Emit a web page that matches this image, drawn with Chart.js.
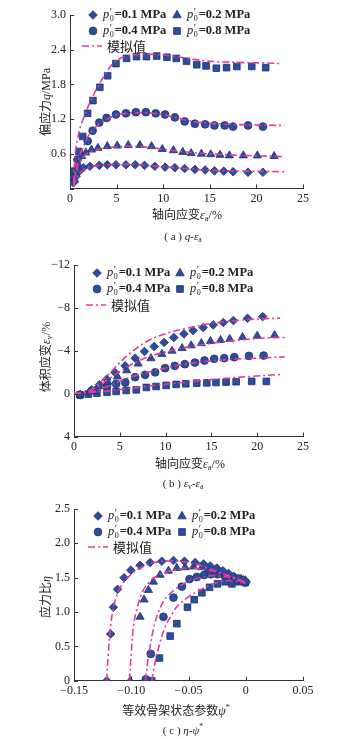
<!DOCTYPE html>
<html lang="zh">
<head>
<meta charset="UTF-8">
<title>q-εa, εv-εa, η-ψ*</title>
<script src="https://cdn.jsdelivr.net/npm/chart.js"></script>
<style>
  body { margin: 0; background: #fff; width: 358px; height: 739px; position: relative; overflow: hidden; }
  canvas { position: absolute; left: 0; }
  .lbl { position: absolute; font-family: "Liberation Serif", "Noto Sans CJK SC", serif; color: #222; white-space: nowrap; }
  .ytitle { font-size: 12px; transform: translate(-50%, -50%) rotate(-90deg); }
  .xtitle { font-size: 12px; transform: translate(-50%, -50%); }
  .cap { font-size: 11px; transform: translate(-50%, -50%); }
  sub { font-size: 70%; vertical-align: -0.25em; }
  sup { font-size: 70%; }
</style>
</head>
<body>
<canvas id="chartA" width="358" height="205" style="top:0"></canvas>
<canvas id="chartB" width="358" height="205" style="top:250px"></canvas>
<canvas id="chartC" width="358" height="210" style="top:495px"></canvas>

<div class="lbl ytitle" style="left:45px;top:102px">偏应力<i>q</i>/MPa</div>
<div class="lbl xtitle" style="left:187px;top:214px">轴向应变<i>ε</i><sub>a</sub>/%</div>
<div class="lbl cap" style="left:183px;top:237px">( a ) <i>q</i>-<i>ε</i><sub>a</sub></div>

<div class="lbl ytitle" style="left:45px;top:357px">体积应变<i>ε</i><sub>v</sub>/%</div>
<div class="lbl xtitle" style="left:190px;top:463px">轴向应变<i>ε</i><sub>a</sub>/%</div>
<div class="lbl cap" style="left:183px;top:484px">( b ) <i>ε</i><sub>v</sub>-<i>ε</i><sub>a</sub></div>

<div class="lbl ytitle" style="left:45px;top:597px">应力比<i>η</i></div>
<div class="lbl xtitle" style="left:176px;top:710px">等效骨架状态参数<i>ψ</i><sup>*</sup></div>
<div class="lbl cap" style="left:183px;top:729px">( c ) <i>η</i>-<i>ψ</i><sup>*</sup></div>

<script>
// ---- data ----
const pressures = ['0.1', '0.2', '0.4', '0.8'];

// (a) q - εa, experimental
const aExp01 = [[0.36,0.10],[0.64,0.21],[1.0,0.30],[1.43,0.36],[2.14,0.385],[3.14,0.40],[4.0,0.41],[4.93,0.41],[6.0,0.41],[7.0,0.41],[8.0,0.40],[9.1,0.385],[10.2,0.37],[11.25,0.36],[12.3,0.345],[13.4,0.33],[14.5,0.32],[15.5,0.305],[16.5,0.30],[17.5,0.29],[19.1,0.28],[20.7,0.28]];
const aExp02 = [[0.5,0.15],[0.9,0.41],[1.25,0.56],[1.7,0.62],[2.3,0.67],[3.0,0.70],[4.0,0.73],[5.07,0.74],[6.25,0.75],[7.5,0.75],[8.75,0.73],[9.9,0.68],[11.1,0.66],[12.1,0.63],[13.0,0.61],[14.1,0.60],[15.1,0.59],[16.1,0.58],[17.1,0.57],[18.6,0.57],[20.1,0.57],[21.9,0.56]];
const aExp04 = [[0.4,0.2],[0.8,0.5],[1.9,0.82],[2.43,1.0],[3.14,1.14],[3.93,1.22],[4.93,1.28],[6.0,1.30],[7.07,1.32],[8.14,1.32],[9.2,1.30],[10.2,1.28],[11.25,1.23],[12.3,1.16],[13.4,1.12],[14.5,1.11],[15.5,1.09],[16.6,1.09],[17.5,1.07],[19.1,1.09],[20.7,1.07]];
const aExp08 = [[0.5,0.3],[0.96,0.64],[1.36,0.90],[1.89,1.30],[2.46,1.52],[3.2,1.75],[4.04,1.95],[4.93,2.16],[6.07,2.25],[7.14,2.28],[8.2,2.28],[9.3,2.29],[10.4,2.27],[11.4,2.25],[12.5,2.20],[13.6,2.14],[14.6,2.12],[15.7,2.08],[16.8,2.09],[17.9,2.11],[19.5,2.11],[21.0,2.09]];
// (a) simulated
const aSim01 = [[0.4,0.03],[0.7,0.18],[1,0.26],[1.5,0.33],[2,0.37],[3,0.40],[4,0.41],[5,0.42],[6,0.42],[7,0.415],[8,0.40],[10,0.375],[12,0.35],[14,0.325],[16,0.31],[19,0.30],[23,0.29]];
const aSim02 = [[0.4,0.05],[0.7,0.3],[1,0.45],[1.5,0.56],[2,0.62],[3,0.68],[4,0.71],[5,0.72],[6,0.73],[7,0.73],[8,0.72],[10,0.68],[12,0.64],[14,0.61],[16,0.59],[19,0.57],[23,0.55]];
const aSim04 = [[0.4,0.08],[0.7,0.37],[1,0.55],[1.5,0.75],[2,0.92],[3,1.10],[4,1.20],[5,1.27],[6,1.30],[7,1.31],[8,1.31],[9.5,1.29],[11,1.24],[12.5,1.18],[14,1.14],[16,1.12],[19,1.10],[23,1.09]];
const aSim08 = [[0.4,0.1],[0.55,0.58],[0.8,0.85],[1.25,1.13],[2.5,1.61],[3.9,2.01],[4.8,2.19],[6,2.29],[7.5,2.32],[9,2.32],[11,2.29],[13,2.24],[15,2.20],[18,2.18],[21,2.17],[22.6,2.16]];

// (b) εv - εa, experimental
const bExp01 = [[0.66,0.1],[1.93,-0.37],[2.77,-0.84],[3.57,-1.36],[4.48,-1.98],[5.58,-2.6],[6.67,-3.32],[7.69,-3.94],[8.75,-4.4],[9.84,-4.78],[10.9,-5.24],[12.0,-5.58],[13.0,-5.89],[14.1,-6.17],[15.2,-6.42],[16.3,-6.64],[17.4,-6.82],[18.95,-7.04],[20.6,-7.19]];
const bExp02 = [[0.66,0.1],[1.7,-0.2],[2.7,-0.7],[3.7,-1.1],[4.74,-1.6],[5.76,-2.17],[7.0,-2.8],[8.4,-3.3],[9.6,-3.7],[10.7,-4.0],[11.8,-4.25],[12.8,-4.5],[13.9,-4.7],[14.9,-4.9],[16.0,-5.0],[17.0,-5.1],[18.4,-5.27],[20.0,-5.4],[21.9,-5.46]];
const bExp04 = [[0.66,0.1],[2.5,-0.37],[3.6,-0.68],[4.6,-0.93],[5.6,-1.05],[6.67,-1.55],[7.76,-1.77],[8.86,-2.0],[9.95,-2.39],[11.0,-2.6],[12.1,-2.76],[13.2,-2.91],[14.25,-3.1],[15.3,-3.26],[16.4,-3.32],[17.5,-3.41],[19.1,-3.53],[20.7,-3.56]];
const bExp08 = [[0.66,0.1],[1.57,0.03],[2.5,-0.06],[3.6,-0.15],[4.6,-0.22],[5.7,-0.31],[6.8,-0.37],[7.9,-0.59],[8.96,-0.68],[10.06,-0.78],[11.15,-0.87],[12.2,-0.93],[13.4,-0.99],[14.5,-1.02],[15.5,-1.05],[16.6,-1.09],[17.7,-1.12],[19.4,-1.15],[21.0,-1.15]];
// (b) simulated
const bSim01 = [[0,0],[1.5,-0.2],[2.5,-0.8],[4,-2.0],[5,-2.9],[6,-3.7],[8,-4.9],[10,-5.6],[12,-6.05],[15,-6.55],[18,-6.85],[21,-7.0],[22.5,-7.05]];
const bSim02 = [[0,0],[2,-0.4],[4,-1.5],[6,-2.6],[8,-3.4],[10,-3.9],[12,-4.3],[15,-4.7],[18,-5.0],[21,-5.2],[23,-5.25]];
const bSim04 = [[0,0],[2,-0.2],[4,-0.8],[6,-1.5],[8,-2.0],[10,-2.4],[12,-2.75],[15,-3.05],[18,-3.25],[21,-3.35],[23,-3.45]];
const bSim08 = [[0,0],[3,-0.2],[5,-0.4],[7,-0.6],[10,-0.9],[13,-1.15],[16,-1.4],[19,-1.6],[22.5,-1.8]];

// (c) η - ψ*, experimental
const cExp01 = [[-0.1214,0],[-0.118,0.68],[-0.1156,1.07],[-0.112,1.33],[-0.1063,1.50],[-0.1004,1.61],[-0.0923,1.68],[-0.0835,1.72],[-0.0733,1.74],[-0.0631,1.75],[-0.0535,1.74],[-0.0442,1.72],[-0.0369,1.70],[-0.031,1.67],[-0.0252,1.64],[-0.02,1.60],[-0.015,1.56],[-0.0106,1.52],[-0.0063,1.49],[-0.0025,1.47],[0.0004,1.44]];
const cExp02 = [[-0.101,0],[-0.0923,0.93],[-0.0888,1.18],[-0.085,1.32],[-0.0806,1.44],[-0.0748,1.54],[-0.0675,1.60],[-0.0602,1.64],[-0.0529,1.65],[-0.0456,1.66],[-0.0383,1.65],[-0.0325,1.63],[-0.0267,1.60],[-0.0208,1.57],[-0.015,1.53],[-0.0092,1.50],[-0.0042,1.48],[-0.0004,1.46]];
const cExp04 = [[-0.0873,0.02],[-0.083,0.39],[-0.0719,0.93],[-0.0631,1.21],[-0.0558,1.37],[-0.0491,1.48],[-0.0427,1.51],[-0.0363,1.54],[-0.0305,1.55],[-0.0246,1.55],[-0.0188,1.54],[-0.0136,1.50],[-0.0083,1.48],[-0.0042,1.46],[-0.0004,1.43]];
const cExp08 = [[-0.0821,0],[-0.0754,0.33],[-0.066,0.65],[-0.0602,0.83],[-0.0509,1.07],[-0.045,1.18],[-0.0383,1.28],[-0.0316,1.36],[-0.0246,1.41],[-0.0179,1.44],[-0.0121,1.41],[-0.0063,1.44],[-0.0004,1.43]];
// (c) simulated
const cSim01 = [[-0.1215,0],[-0.12,0.4],[-0.118,0.8],[-0.115,1.1],[-0.11,1.35],[-0.1,1.55],[-0.09,1.66],[-0.08,1.72],[-0.07,1.74],[-0.06,1.74],[-0.05,1.72],[-0.04,1.68],[-0.03,1.62],[-0.02,1.56],[-0.01,1.5],[0,1.43]];
const cSim02 = [[-0.1015,0],[-0.1,0.4],[-0.098,0.8],[-0.095,1.05],[-0.09,1.3],[-0.085,1.42],[-0.08,1.5],[-0.07,1.58],[-0.06,1.62],[-0.05,1.64],[-0.04,1.63],[-0.03,1.6],[-0.02,1.55],[-0.01,1.5],[0,1.43]];
const cSim04 = [[-0.0875,0],[-0.085,0.35],[-0.08,0.8],[-0.075,1.05],[-0.07,1.2],[-0.06,1.35],[-0.05,1.45],[-0.04,1.5],[-0.03,1.53],[-0.02,1.52],[-0.01,1.48],[0,1.42]];
const cSim08 = [[-0.082,0],[-0.08,0.2],[-0.075,0.55],[-0.07,0.8],[-0.065,0.95],[-0.06,1.08],[-0.05,1.22],[-0.04,1.32],[-0.03,1.4],[-0.02,1.45],[-0.01,1.45],[0,1.42]];

// tick labels
const aTicksY = ['', '0.6', '1.2', '1.8', '2.4', '3.0'];
const epsTicksX = ['0', '5', '10', '15', '20', '25'];
const bTicksY = ['\u221212', '\u22128', '\u22124', '0', '4'];
const cTicksX = ['\u22120.15', '\u22120.10', '\u22120.05', '0', '0.05'];
const cTicksY = ['0', '0.5', '1.0', '1.5', '2.0', '2.5'];

// ---- styling ----
const markFill = '#2c4c9c';
const markEdge = '#1c3274';
const simColor = '#e8399a';
const shapes = ['rectRot', 'triangle', 'circle', 'rect'];
const radii = [4.3, 4.7, 3.9, 4.7];
const FONT = '"Liberation Serif", "Noto Sans CJK SC", serif';

function toXY(arr) {
  return arr.map(p => ({ x: p[0], y: p[1] }));
}

function buildDatasets(exps, sims) {
  const sets = [];
  sims.forEach(s => {
    sets.push({
      data: toXY(s),
      showLine: true,
      borderColor: simColor,
      borderWidth: 1.6,
      borderDash: [7, 3, 2, 3],
      pointRadius: 0,
      tension: 0.35,
      fill: false,
      order: 0
    });
  });
  exps.forEach((e, i) => {
    sets.push({
      data: toXY(e),
      showLine: false,
      pointStyle: shapes[i],
      pointRadius: radii[i],
      backgroundColor: markFill,
      borderColor: markEdge,
      borderWidth: 0.8,
      order: 1
    });
  });
  return sets;
}

// tick marks pointing into the plot
const inwardTicks = {
  id: 'inwardTicks',
  afterDraw(chart) {
    const ctx = chart.ctx;
    const xs = chart.scales.x, ys = chart.scales.y;
    ctx.save();
    ctx.strokeStyle = '#333';
    ctx.lineWidth = 1;
    xs.ticks.forEach(t => {
      const px = Math.round(xs.getPixelForValue(t.value)) + 0.5;
      ctx.beginPath();
      ctx.moveTo(px, xs.top);
      ctx.lineTo(px, xs.top - 4);
      ctx.stroke();
    });
    ys.ticks.forEach(t => {
      const py = Math.round(ys.getPixelForValue(t.value)) + 0.5;
      ctx.beginPath();
      ctx.moveTo(ys.right, py);
      ctx.lineTo(ys.right + 4, py);
      ctx.stroke();
    });
    ctx.restore();
  }
};

function drawMarker(ctx, style, x, y, r) {
  ctx.beginPath();
  if (style === 'rectRot') {
    ctx.moveTo(x, y - r); ctx.lineTo(x + r, y); ctx.lineTo(x, y + r); ctx.lineTo(x - r, y);
  } else if (style === 'triangle') {
    ctx.moveTo(x, y - r); ctx.lineTo(x + r * 0.9, y + r * 0.6); ctx.lineTo(x - r * 0.9, y + r * 0.6);
  } else if (style === 'circle') {
    ctx.arc(x, y, r, 0, Math.PI * 2);
  } else {
    const s = r * 0.72;
    ctx.rect(x - s, y - s, 2 * s, 2 * s);
  }
  ctx.closePath();
  ctx.fillStyle = markFill;
  ctx.strokeStyle = markEdge;
  ctx.lineWidth = 0.8;
  ctx.fill();
  ctx.stroke();
}

// legend text: p'0=0.1 MPa
function drawPLabel(ctx, x, y, p) {
  ctx.fillStyle = '#222';
  ctx.textBaseline = 'middle';
  ctx.textAlign = 'left';
  ctx.font = 'italic 12.5px ' + FONT;
  ctx.fillText('p', x, y);
  let cx = x + ctx.measureText('p').width + 0.5;
  ctx.font = '10px ' + FONT;
  ctx.fillText('\u2032', cx, y - 3);
  ctx.font = '8px ' + FONT;
  ctx.fillText('0', cx, y + 4);
  cx += 5;
  ctx.font = 'bold 12.5px ' + FONT;
  ctx.fillText('=' + p + ' MPa', cx, y);
}

const richLegend = {
  id: 'richLegend',
  afterDraw(chart, args, opts) {
    const ctx = chart.ctx;
    ctx.save();
    const rows = [opts.y1, opts.y1, opts.y2, opts.y2];
    const mx = [opts.m1, opts.m2, opts.m1, opts.m2];
    pressures.forEach((p, i) => {
      drawMarker(ctx, shapes[i], mx[i], rows[i], radii[i]);
      drawPLabel(ctx, mx[i] + 10, rows[i], p);
    });
    ctx.strokeStyle = simColor;
    ctx.lineWidth = 1.6;
    ctx.setLineDash([7, 3, 2, 3]);
    ctx.beginPath();
    ctx.moveTo(opts.l0, opts.y3);
    ctx.lineTo(opts.l0 + 20, opts.y3);
    ctx.stroke();
    ctx.setLineDash([]);
    ctx.fillStyle = '#222';
    ctx.font = '13px "Noto Sans CJK SC", sans-serif';
    ctx.textBaseline = 'middle';
    ctx.fillText('模拟值', opts.l0 + 25, opts.y3);
    ctx.restore();
  }
};

function makeChart(id, cfg) {
  return new Chart(document.getElementById(id), {
    type: 'scatter',
    data: { datasets: buildDatasets(cfg.exps, cfg.sims) },
    options: {
      responsive: false,
      animation: false,
      devicePixelRatio: 1,
      layout: { padding: { top: cfg.top, right: cfg.right, left: 0, bottom: 0 } },
      plugins: {
        legend: { display: false },
        tooltip: { enabled: false },
        richLegend: cfg.legend
      },
      scales: {
        x: {
          type: 'linear',
          min: cfg.xMin, max: cfg.xMax,
          afterBuildTicks: s => { s.ticks = cfg.xVals.map(v => ({ value: v })); },
          afterFit: s => { s.height = cfg.xH; },
          grid: { display: false, drawTicks: false },
          border: { display: true, color: '#333', width: 1 },
          ticks: {
            padding: 3, color: '#222', maxRotation: 0, autoSkip: false,
            font: { family: FONT, size: 12 },
            callback: (v, i) => cfg.xLabels[i]
          }
        },
        y: {
          type: 'linear',
          min: cfg.yMin, max: cfg.yMax,
          reverse: !!cfg.yReverse,
          afterBuildTicks: s => { s.ticks = cfg.yVals.map(v => ({ value: v })); },
          afterFit: s => { s.width = cfg.yW; },
          grid: { display: false, drawTicks: false },
          border: { display: true, color: '#333', width: 1 },
          ticks: {
            padding: 4, color: '#222', autoSkip: false,
            font: { family: FONT, size: 12 },
            callback: (v, i) => cfg.yLabels[i]
          }
        }
      }
    },
    plugins: [inwardTicks, richLegend]
  });
}

makeChart('chartA', {
  exps: [aExp01, aExp02, aExp04, aExp08],
  sims: [aSim01, aSim02, aSim04, aSim08],
  xMin: 0, xMax: 25, xVals: [0, 5, 10, 15, 20, 25], xLabels: epsTicksX,
  yMin: 0, yMax: 3, yVals: [0, 0.6, 1.2, 1.8, 2.4, 3.0], yLabels: aTicksY,
  top: 15, right: 55, yW: 70, xH: 16.5,
  legend: { y1: 15, y2: 31, y3: 46, m1: 93, m2: 177, l0: 82 }
});

makeChart('chartB', {
  exps: [bExp01, bExp02, bExp04, bExp08],
  sims: [bSim01, bSim02, bSim04, bSim08],
  xMin: 0, xMax: 25, xVals: [0, 5, 10, 15, 20, 25], xLabels: epsTicksX,
  yMin: -12, yMax: 4, yReverse: true, yVals: [-12, -8, -4, 0, 4], yLabels: bTicksY,
  top: 15, right: 55, yW: 74, xH: 18.3,
  legend: { y1: 23, y2: 39, y3: 55, m1: 97, m2: 180, l0: 86 }
});

makeChart('chartC', {
  exps: [cExp01, cExp02, cExp04, cExp08],
  sims: [cSim01, cSim02, cSim04, cSim08],
  xMin: -0.15, xMax: 0.05, xVals: [-0.15, -0.10, -0.05, 0, 0.05], xLabels: cTicksX,
  yMin: 0, yMax: 2.5, yVals: [0, 0.5, 1.0, 1.5, 2.0, 2.5], yLabels: cTicksY,
  top: 14, right: 55, yW: 74, xH: 24.3,
  legend: { y1: 21, y2: 37, y3: 52, m1: 98, m2: 182, l0: 88 }
});
</script>
</body>
</html>
